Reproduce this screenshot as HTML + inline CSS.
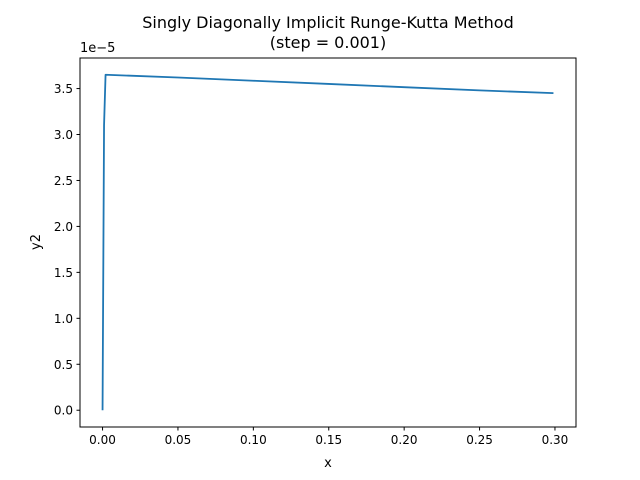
<!DOCTYPE html>
<html><head><meta charset="utf-8"><style>body{margin:0;background:#fff}svg{display:block;font-family:"DejaVu Sans","Liberation Sans",sans-serif}</style></head>
<body>
<svg id="chart" width="640" height="480">
<rect x="0" y="0" width="640" height="480" fill="#fff"/>
<text x="328" y="28" text-anchor="middle" font-size="16">Singly Diagonally Implicit Runge-Kutta Method</text>
<text x="328" y="48" text-anchor="middle" font-size="16">(step = 0.001)</text>
<text x="80" y="52" font-size="13">1e−5</text>
<text x="328" y="467" text-anchor="middle" font-size="13">x</text>
<text transform="translate(40,242) rotate(-90)" text-anchor="middle" font-size="13">y2</text>
<g id="ticks"></g>
<path id="line" fill="none" stroke="#1f77b4" stroke-width="1.8" stroke-linejoin="round"/>
<rect x="80" y="58" width="496" height="369" fill="none" stroke="#000" stroke-width="1"/>
</svg>
<script>
const xs = [0, 0.001, 0.002, 0.05, 0.1, 0.15, 0.2, 0.25, 0.299];
const ys = [0, 3.1, 3.65, 3.62, 3.585, 3.55, 3.515, 3.48, 3.45];
const xTicks = [0, 0.05, 0.1, 0.15, 0.2, 0.25, 0.3];
const xTickLabels = ["0.00","0.05","0.10","0.15","0.20","0.25","0.30"];
const yTicks = [0, 0.5, 1, 1.5, 2, 2.5, 3, 3.5];
const yTickLabels = ["0.0","0.5","1.0","1.5","2.0","2.5","3.0","3.5"];
const L=80,R=576,T=58,B=427;
const xmin=Math.min(...xs),xmax=Math.max(...xs),ymin=Math.min(...ys),ymax=Math.max(...ys);
const x0=xmin-(xmax-xmin)*0.05,x1=xmax+(xmax-xmin)*0.05,y0=ymin-(ymax-ymin)*0.05,y1=ymax+(ymax-ymin)*0.05;
const sx=v=>L+(v-x0)/(x1-x0)*(R-L), sy=v=>B-(v-y0)/(y1-y0)*(B-T);
const NS="http://www.w3.org/2000/svg", g=document.getElementById('ticks');
function mk(t,a){const e=document.createElementNS(NS,t);for(const k in a)e.setAttribute(k,a[k]);return e;}
xTicks.forEach((v,i)=>{const x=sx(v);
 const l=mk('line',{x1:x,x2:x,y1:B,y2:B+3.5,stroke:'#000'});
 
 
 g.appendChild(l);
 const t=mk('text',{x:x,y:B+17,'text-anchor':'middle','font-size':'12'});t.textContent=xTickLabels[i];
 
 
 g.appendChild(t);});
yTicks.forEach((v,i)=>{const y=sy(v);
 const l=mk('line',{x1:L-3.5,x2:L,y1:y,y2:y,stroke:'#000'});
 
 
 g.appendChild(l);
 const t=mk('text',{x:L-7,y:y+4.5,'text-anchor':'end','font-size':'12'});t.textContent=yTickLabels[i];
 
 
 g.appendChild(t);});
document.getElementById('line').setAttribute('d',xs.map((v,i)=>(i?'L':'M')+sx(v).toFixed(2)+','+sy(ys[i]).toFixed(2)).join(' '));
</script>
</body></html>
